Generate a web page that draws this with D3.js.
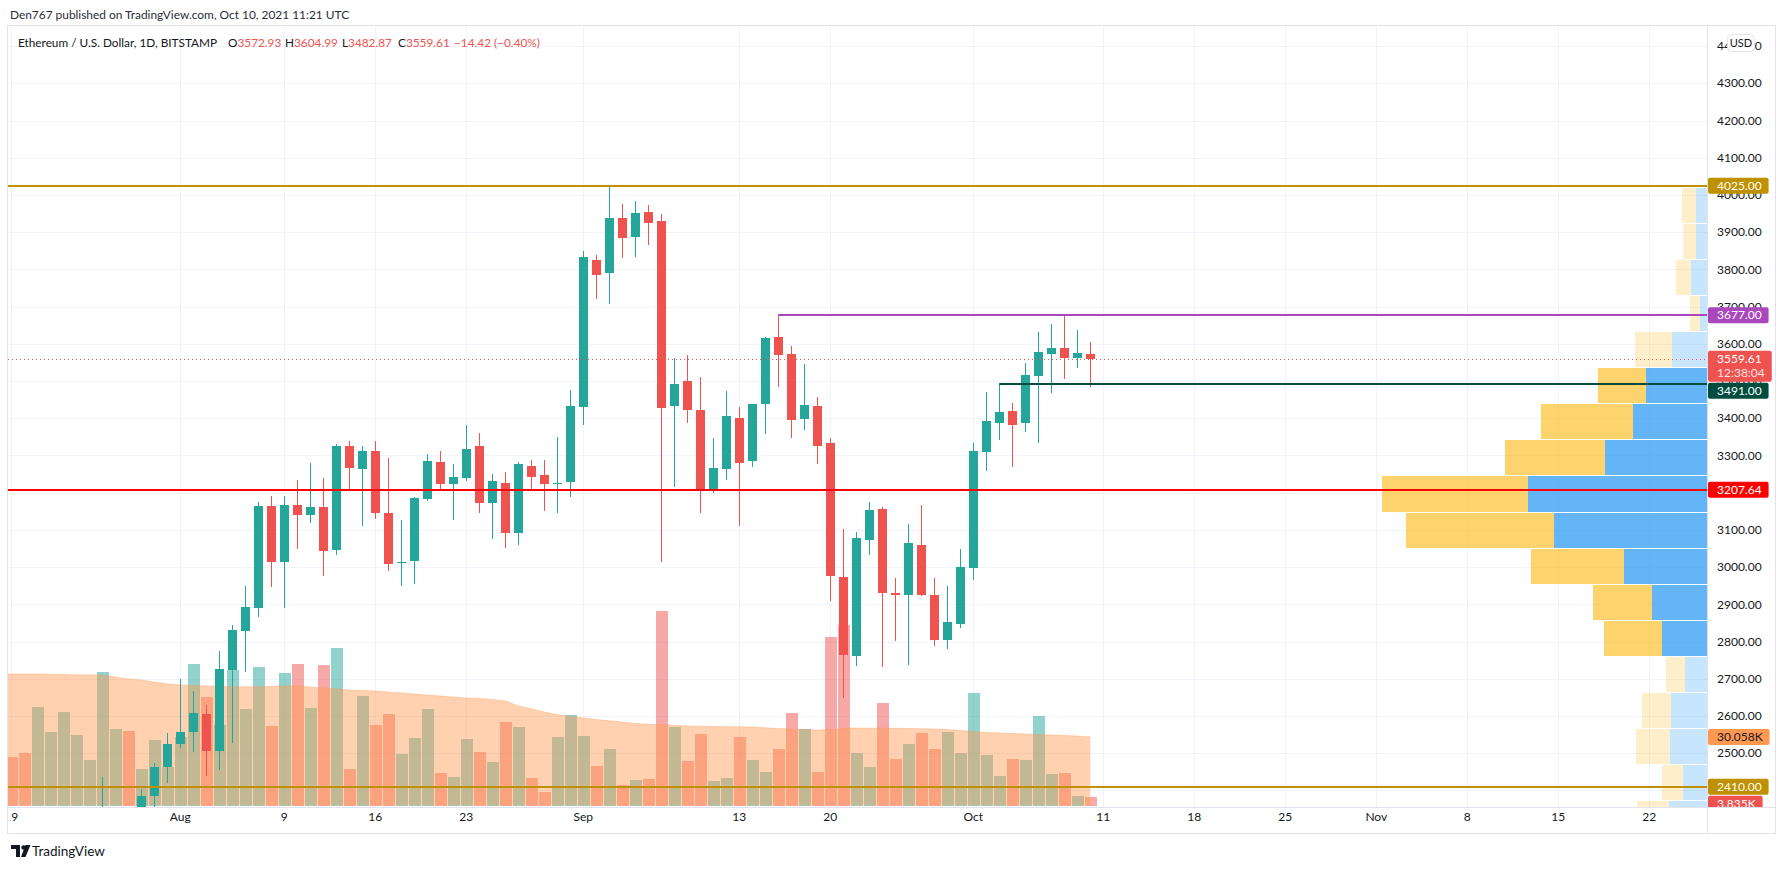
<!DOCTYPE html>
<html>
<head>
<meta charset="utf-8">
<script src="https://cdn.jsdelivr.net/npm/d3@7"></script>
<style>
  body { margin: 0; background: #fff; }
  svg text { font-family: "Lato", "Open Sans", sans-serif; }
</style>
</head>
<body>
<svg id="chart" width="1785" height="869"></svg>
<script>
/* DATA */
// daily candles, 2021-07-18 .. 2021-10-10
const opens = [1880,1895,1820,1787,1995,2027,2125,2188,2190,2233,2298,2296,2385,2463,
  2525,2556,2605,2507,2724,2829,2891,3164,3014,3167,3140,3162,3046,3326,3264,3312,3146,3011,3017,3183,3283,3223,3240,3326,3173,3226,3093,3272,3248,3224,3230,
  3431,3825,3791,3938,3888,3954,3930,3434,3500,3422,3207,3265,3401,3285,3437,3618,3573,3399,3433,3334,2973,2762,3074,3156,2931,2924,3060,2925,2805,2848,
  2999,3309,3387,3420,3387,3514,3573,3589,3562,3572.93];
const highs = [1945,1900,1825,2040,2045,2130,2190,2200,2437,2315,2345,2404,2475,2554,
  2700,2667,2630,2775,2845,2949,3175,3191,3191,3234,3281,3240,3331,3338,3326,3338,3293,3127,3189,3304,3312,3277,3382,3360,3250,3256,3283,3288,3288,3350,3476,
  3849,3839,4022,3976,3984,3973,3949,3561,3570,3511,3348,3474,3431,3438,3618,3677,3594,3546,3457,3347,3103,3094,3175,3162,2971,3116,3167,2971,2949,3049,
  3334,3471,3491,3441,3548,3632,3653,3677,3637,3604.99];
const lows = [1855,1800,1718,1775,1955,1995,2090,2140,2165,2160,2260,2270,2276,2421,
  2513,2504,2440,2455,2528,2719,2867,2947,2891,3049,3119,2976,3033,3205,3111,3129,2990,2950,2955,3179,3207,3127,3232,3145,3076,3052,3059,3207,3152,3145,3189,
  3382,3720,3707,3831,3834,3866,3015,3215,3387,3145,3200,3234,3111,3270,3358,3485,3348,3368,3277,2910,2649,2735,3033,2731,2802,2737,2922,2789,2781,2837,
  2966,3259,3342,3269,3363,3334,3468,3506,3535,3482.87];
const closes = [1895,1820,1787,1995,2027,2125,2188,2190,2233,2298,2296,2385,2463,2525,
  2556,2607,2507,2726,2831,2893,3164,3014,3166,3140,3162,3043,3326,3267,3312,3146,3008,3014,3185,3285,3223,3242,3317,3173,3232,3093,3277,3243,3224,3227,3433,
  3834,3785,3938,3885,3952,3925,3428,3492,3423,3207,3266,3406,3281,3438,3616,3571,3396,3436,3326,2977,2765,3078,3153,2930,2924,3066,2924,2805,2853,3001,
  3312,3393,3417,3382,3516,3578,3589,3562,3574.03,3559.61];
const volumes = [20000,21300,23000,43200,32300,41000,30900,20000,58600,33600,32700,16000,28700,16900,
  30100,62100,47600,35300,59500,42300,60800,34900,58100,62100,42800,61700,69100,16000,48000,35300,40200,22600,29600,42300,14300,12500,29200,23500,19100,36600,34400,12100,5900,30100,39700,
  30500,17300,24800,9000,11200,11600,85300,34400,19500,31400,10800,12100,30100,20000,14700,24800,40600,33600,14700,73900,79200,23000,16900,45000,20400,27000,31800,24800,32300,23000,
  49400,22200,12900,20400,20000,39300,13800,14300,4200,3835];
const volumeMA = [57800,57700,57700,57700,57600,57500,57300,57300,57300,56400,55500,55100,54200,53300,
  52900,52700,52400,52400,52100,52100,52100,52300,52400,52600,52000,51600,51100,50700,50500,50200,49800,49400,48900,48500,48000,47600,47200,47000,46500,45900,43700,42400,41000,39900,39100,
  38400,37700,37200,36600,36000,35600,35500,35100,34900,34800,34700,34600,34600,34400,34100,33800,33600,33300,33100,33300,33900,34000,33900,33900,33900,33800,33700,33600,33300,32900,
  32500,32000,31800,31600,31400,31200,30900,30700,30500,30058];

// visible range volume profile rows, top row first
const vpTop = 4022.5, vpRowSize = 97;
const vpUp   = [27, 28, 40, 18, 88, 153, 185, 255, 448, 383, 208, 138, 113, 55, 90, 93, 60, 95];
const vpDown = [35, 33, 38, 25, 93, 120, 230, 250, 365, 370, 233, 148, 145, 48, 73, 85, 53, 80];
const vpValueArea = [5, 12];

// drawn levels
const levelPrices = [4025, 3677, 3491, 3207.64, 2410];
const levelStarts = [null, "2021-09-16", "2021-10-03", null, null];
const lastPrice = 3559.61, countdown = "12:38:04";

const priceTicks = d3.range(2400, 4401, 100);
const timeTicks = ["2021-07-19","2021-08-01","2021-08-09","2021-08-16","2021-08-23","2021-09-01","2021-09-13","2021-09-20",
  "2021-10-01","2021-10-11","2021-10-18","2021-10-25","2021-11-01","2021-11-08","2021-11-15","2021-11-22"];
const timeTickLabels = ["19","Aug","9","16","23","Sep","13","20","Oct","11","18","25","Nov","8","15","22"];

/* CONSTANTS */
const pane = { left: 8, right: 1707, top: 26, bottom: 807 };
const up = "#26a69a", down = "#ef5350";
const levelColors = ["#bf9000", "#ab47bc", "#004d40", "#ff0000", "#bf9000"];
const dayMs = 864e5, sep1 = Date.UTC(2021, 8, 1);
const parse = d3.utcParse("%Y-%m-%d");
const fmt2 = d3.format(".2f");
const minus = s => s.replace("-", "\u2212");

const dates = d3.utcDay.range(parse("2021-07-18"), parse("2021-10-11"));
const bars = dates.map((d, i) => ({ date: d, o: opens[i], h: highs[i], l: lows[i], c: closes[i], v: volumes[i], ma: volumeMA[i] }));

const x = d3.scaleUtc()
  .domain([new Date(sep1 - 44.254 * dayMs), new Date(sep1 + 86.44 * dayMs)])
  .range([pane.left, pane.right]);
const y = d3.scaleLinear().domain([2355.6, 4453.9]).range([pane.bottom, pane.top]);
const yVol = d3.scaleLinear().domain([0, 30058]).range([805.5, 737]);

const svg = d3.select("#chart");

const defs = svg.append("defs");
defs.append("clipPath").attr("id", "pane")
  .append("rect").attr("x", pane.left).attr("y", pane.top)
  .attr("width", pane.right - pane.left).attr("height", pane.bottom - pane.top);
defs.append("clipPath").attr("id", "axis")
  .append("rect").attr("x", pane.right).attr("y", pane.top)
  .attr("width", 70).attr("height", pane.bottom - pane.top);
defs.append("clipPath").attr("id", "taxis")
  .append("rect").attr("x", 10).attr("y", pane.bottom)
  .attr("width", pane.right - 10).attr("height", 26);

// header
svg.append("text").attr("x", 10).attr("y", 15).attr("dy", "0.35em")
  .attr("font-size", 11.9).attr("fill", "#2a2e39")
  .text("Den767 published on TradingView.com, Oct 10, 2021 11:21 UTC");

const plot = svg.append("g").attr("clip-path", "url(#pane)");

// grid
plot.append("g").selectAll("line").data(priceTicks).join("line")
  .attr("x1", pane.left).attr("x2", pane.right)
  .attr("y1", d => Math.round(y(d)) + 0.5).attr("y2", d => Math.round(y(d)) + 0.5)
  .attr("stroke", "#f0f3fa");
plot.append("g").selectAll("line").data(timeTicks).join("line")
  .attr("x1", d => Math.round(x(parse(d))) + 0.5).attr("x2", d => Math.round(x(parse(d))) + 0.5)
  .attr("y1", pane.top).attr("y2", pane.bottom)
  .attr("stroke", "#f0f3fa");

// volume profile
const vpRows = vpUp.map((u, i) => ({ i, up: u, down: vpDown[i] }));
const vpW = d3.scaleLinear().domain([0, d3.max(vpRows, d => d.up + d.down)]).range([0, 325]);
const vpG = plot.append("g").attr("shape-rendering", "crispEdges");
vpRows.forEach(r => {
  const inVA = r.i >= vpValueArea[0] && r.i <= vpValueArea[1];
  const y0 = Math.round(y(vpTop - vpRowSize * r.i));
  const y1 = Math.round(y(vpTop - vpRowSize * (r.i + 1)));
  const wu = Math.round(vpW(r.up)), wd = Math.round(vpW(r.up + r.down));
  vpG.append("rect").attr("x", pane.right - wd).attr("y", y0 + 1).attr("width", wd - wu).attr("height", y1 - y0 - 1)
    .attr("fill", inVA ? "rgba(251,192,45,0.7)" : "rgba(251,192,45,0.25)");
  vpG.append("rect").attr("x", pane.right - wu).attr("y", y0 + 1).attr("width", wu).attr("height", y1 - y0 - 1)
    .attr("fill", inVA ? "rgba(33,150,243,0.7)" : "rgba(33,150,243,0.25)");
});

// volume bars
plot.append("g").attr("shape-rendering", "crispEdges")
  .selectAll("rect").data(bars).join("rect")
  .attr("x", d => Math.round(x(d.date)) - 5)
  .attr("width", 12)
  .attr("y", d => Math.round(yVol(d.v)))
  .attr("height", d => Math.round(yVol(0)) - Math.round(yVol(d.v)))
  .attr("fill", d => d.c >= d.o ? "rgba(38,166,154,0.5)" : "rgba(239,83,80,0.5)");

// volume moving average
plot.append("path").datum(bars)
  .attr("d", d3.area().x(d => x(d.date)).y0(yVol(0)).y1(d => yVol(d.ma)))
  .attr("fill", "rgba(255,152,80,0.45)");
plot.append("path").datum(bars)
  .attr("d", d3.line().x(d => x(d.date)).y(d => yVol(d.ma)))
  .attr("fill", "none").attr("stroke", "rgba(255,152,80,0.35)");

// candles
const cg = plot.append("g").attr("shape-rendering", "crispEdges");
cg.selectAll("rect.wick").data(bars).join("rect").attr("class", "wick")
  .attr("x", d => Math.round(x(d.date)))
  .attr("width", 1)
  .attr("y", d => Math.round(y(d.h)))
  .attr("height", d => Math.max(1, Math.round(y(d.l)) - Math.round(y(d.h))))
  .attr("fill", d => d.c >= d.o ? up : down);
cg.selectAll("rect.body").data(bars).join("rect").attr("class", "body")
  .attr("x", d => Math.round(x(d.date)) - 4)
  .attr("width", 9)
  .attr("y", d => Math.round(y(Math.max(d.o, d.c))))
  .attr("height", d => Math.max(1, Math.round(y(Math.min(d.o, d.c))) - Math.round(y(Math.max(d.o, d.c)))))
  .attr("fill", d => d.c >= d.o ? up : down);

// horizontal levels
plot.append("g").selectAll("line").data(levelPrices).join("line")
  .attr("x1", (d, i) => levelStarts[i] ? x(parse(levelStarts[i])) : pane.left)
  .attr("x2", pane.right)
  .attr("y1", d => Math.round(y(d)))
  .attr("y2", d => Math.round(y(d)))
  .attr("stroke", (d, i) => levelColors[i])
  .attr("stroke-width", 2);

// last price line
plot.append("line")
  .attr("x1", pane.left).attr("x2", pane.right)
  .attr("y1", Math.round(y(lastPrice)) + 0.5).attr("y2", Math.round(y(lastPrice)) + 0.5)
  .attr("stroke", down).attr("stroke-dasharray", "1 3");

// legend
const legend = svg.append("text").attr("y", 43).attr("dy", "0.35em").attr("font-size", 11.8).attr("fill", "#131722");
legend.append("tspan").attr("x", 18).text("Ethereum / U.S. Dollar, 1D, BITSTAMP");
const last = bars[bars.length - 1], prev = bars[bars.length - 2];
const chg = last.c - prev.c;
[["O", last.o, 228], ["H", last.h, 285], ["L", last.l, 342], ["C", last.c, 398]].forEach(([k, v, px]) => {
  legend.append("tspan").attr("x", px).text(k);
  legend.append("tspan").attr("fill", down).text(fmt2(v));
});
legend.append("tspan").attr("x", 454).attr("fill", down)
  .text(`${minus(fmt2(chg))} (${minus(fmt2(chg / prev.c * 100))}%)`);

// frame
svg.append("rect").attr("x", 7.5).attr("y", 25.5).attr("width", 1768).attr("height", 808)
  .attr("fill", "none").attr("stroke", "#e0e3eb");
svg.append("line").attr("x1", pane.right + 0.5).attr("x2", pane.right + 0.5).attr("y1", 25).attr("y2", 834).attr("stroke", "#e0e3eb");
svg.append("line").attr("x1", 7).attr("x2", 1776).attr("y1", pane.bottom + 0.5).attr("y2", pane.bottom + 0.5).attr("stroke", "#e0e3eb");

// time axis
svg.append("g").attr("clip-path", "url(#taxis)")
  .selectAll("text").data(timeTicks).join("text")
  .attr("x", d => x(parse(d))).attr("y", 817).attr("dy", "0.35em")
  .attr("text-anchor", "middle").attr("font-size", 12).attr("fill", "#131722")
  .text((d, i) => timeTickLabels[i]);

// price axis labels (boxes first, to know which ticks they cover)
const labels = [
  ...levelPrices.map((p, i) => ({ y: y(p), lines: [fmt2(p)], fill: levelColors[i], color: "#fff" })),
  { y: y(lastPrice), lines: [fmt2(lastPrice), countdown], fill: down, color: "#fff" },
  { y: yVol(last.ma), lines: [d3.format(".3f")(last.ma / 1000) + "K"], fill: "#ff9850", color: "#131722" },
  { y: yVol(last.v), lines: [d3.format(".3f")(last.v / 1000) + "K"], fill: down, color: "#fff" }
].map(l => ({ ...l, top: l.y - 8, h: 16 + (l.lines.length - 1) * 15 }))
 .sort((a, b) => a.top - b.top);
labels.forEach((l, i) => {
  if (i > 0) {
    const p = labels[i - 1];
    if (l.top < p.top + p.h + 1) l.top = p.top + p.h + 1;
  }
});

const ax = svg.append("g").attr("clip-path", "url(#axis)");
// ticks whose text sits fully under a label box are not drawn
const covered = t => labels.some(l => y(t) - 4 > l.top && y(t) + 4 < l.top + l.h + 1);
ax.selectAll("text.tick").data(priceTicks.filter(t => !covered(t))).join("text").attr("class", "tick")
  .attr("x", 1717).attr("y", d => y(d)).attr("dy", "0.35em")
  .attr("font-size", 12).attr("fill", "#131722")
  .text(d => fmt2(d));

labels.forEach(l => {
  const g = ax.append("g");
  const r = g.append("rect").attr("x", pane.right + 1).attr("y", l.top).attr("height", l.h).attr("rx", 2).attr("fill", l.fill);
  let wmax = 0;
  l.lines.forEach((s, j) => {
    const t = g.append("text").attr("x", 1717).attr("y", l.top + 8 + j * 14).attr("dy", "0.35em")
      .attr("font-size", 12).attr("fill", j ? "rgba(255,255,255,0.85)" : l.color).text(s);
    wmax = Math.max(wmax, t.node().getComputedTextLength());
  });
  r.attr("width", 1717 - pane.right - 1 + wmax + 7);
});

// currency box
svg.append("rect").attr("x", 1727.5).attr("y", 34.5).attr("width", 27).attr("height", 17).attr("rx", 4)
  .attr("fill", "#fff").attr("stroke", "#e0e3eb");
svg.append("text").attr("x", 1741).attr("y", 43).attr("dy", "0.35em").attr("text-anchor", "middle")
  .attr("font-size", 11).attr("fill", "#131722").text("USD");

// footer logo
const logo = svg.append("g").attr("fill", "#131722");
logo.append("path").attr("d", "M11,845 h9 v12 h-4 v-8 h-5 z");
logo.append("circle").attr("cx", 23.5).attr("cy", 847.5).attr("r", 2.2);
logo.append("path").attr("d", "M25.5,845 h5 l-5,12 h-4.5 z");
svg.append("text").attr("x", 32).attr("y", 851).attr("dy", "0.35em")
  .attr("font-size", 13.5).attr("fill", "#131722").text("TradingView");
</script>
</body>
</html>
